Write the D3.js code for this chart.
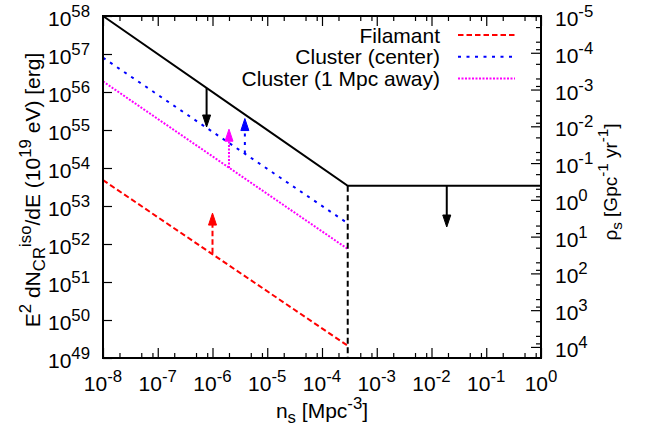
<!DOCTYPE html>
<html>
<head>
<meta charset="utf-8">
<script src="https://cdn.jsdelivr.net/npm/d3@7"></script>
<style>
  body { margin: 0; background: #fff; }
  svg { display: block; }
  text { font-family: "Liberation Sans", Arial, Helvetica, sans-serif; fill: #000; white-space: pre; }
</style>
</head>
<body>
<svg width="645" height="430"></svg>
<script>
(function() {

  // tick label exponents
  const xExponents = [-8, -7, -6, -5, -4, -3, -2, -1, 0];
  const yExponents = [49, 50, 51, 52, 53, 54, 55, 56, 57, 58];
  const y2Exponents = [-5, -4, -3, -2, -1, 0, 1, 2, 3, 4];
  const minorSteps = [2, 5, 8];

  // curves: [n_s, E^2 dN/dE]
  const upperLimit = [[1e-8, 1e58], [2.95e-4, 3.4e53], [1, 3.4e53]];
  const densityCut = [[2.95e-4, 3.4e53], [2.95e-4, 1e49]];
  const filament = [[1e-8, 4.8e53], [2.95e-4, 2.1e49]];
  const clusterCenter = [[1e-8, 8e56], [2.95e-4, 3.5e52]];
  const clusterAway = [[1e-8, 1.9e56], [2.95e-4, 7.4e51]];

  // arrows: [n_s, from, to]
  const limitArrows = [[7.8e-7, 1.28e56, 1.2e55], [1.9e-2, 3.4e53, 2.8e52]];
  const filamentArrows = [[1e-6, 5.7e51, 6.5e52]];
  const centerArrows = [[3.9e-6, 2.4e54, 2.0e55]];
  const awayArrows = [[2e-6, 1.0e54, 1.05e55]];

  const legendNames = ['Filamant', 'Cluster (center)', 'Cluster (1 Mpc away)'];

  const styles = {
    limit: { color: '#000000', dash: null },
    cut: { color: '#000000', dash: '6,3.5' },
    filament: { color: '#ff0000', dash: '5.5,3' },
    center: { color: '#0000ff', dash: '3,5.5' },
    away: { color: '#ff00ff', dash: '2,1.5' }
  };

  const svg = d3.select('svg');
  const left = 103, right = 541, top = 16, bottom = 358;
  const fs = 21;

  const x = d3.scaleLog().domain([1e-8, 1]).range([left, right]);
  const y = d3.scaleLog().domain([1e49, 1e58]).range([bottom, top]);
  const y2 = d3.scaleLog().domain([1e-5, 2e4]).range([top, bottom]);

  function minors(exps, scale) {
    const d = scale.domain();
    const lo = Math.min(d[0], d[1]), hi = Math.max(d[0], d[1]);
    return exps.flatMap(e => minorSteps.map(m => m * Math.pow(10, e))).filter(v => v > lo && v < hi);
  }

  function rich(sel, parts, size) {
    let cur = 0;
    parts.forEach(([t, lv]) => {
      const off = lv === 1 ? -9 : lv === -1 ? 5 : 0;
      sel.append('tspan')
        .attr('dy', off - cur)
        .attr('font-size', lv ? size * 0.8 : size)
        .text(t);
      cur = off;
    });
    return sel;
  }

  function axisGroup(axis, tx, ty) {
    const g = svg.append('g').attr('transform', `translate(${tx},${ty})`).call(axis);
    g.select('.domain').remove();
    g.selectAll('line').attr('stroke', '#000').attr('stroke-width', 1.2);
    g.selectAll('text').remove();
    return g;
  }

  const xMajor = xExponents.map(e => Math.pow(10, e));
  const xMinor = minors(xExponents, x);
  const y2Major = y2Exponents.map(e => Math.pow(10, e));
  const y2Minor = minors(y2Exponents.concat([-6]), y2);

  axisGroup(d3.axisBottom(x).tickValues(xMajor).tickSize(-10), 0, bottom);
  axisGroup(d3.axisBottom(x).tickValues(xMinor).tickSize(-5), 0, bottom);
  axisGroup(d3.axisTop(x).tickValues(xMajor).tickSize(-10), 0, top);
  axisGroup(d3.axisTop(x).tickValues(xMinor).tickSize(-5), 0, top);
  axisGroup(d3.axisLeft(y).tickValues(yExponents.map(e => Math.pow(10, e))).tickSize(-9), left, 0);
  axisGroup(d3.axisRight(y2).tickValues(y2Major).tickSize(-10), right, 0);
  axisGroup(d3.axisRight(y2).tickValues(y2Minor).tickSize(-5), right, 0);

  // tick labels
  xExponents.forEach(e => {
    rich(svg.append('text').attr('x', x(Math.pow(10, e))).attr('y', 391).attr('text-anchor', 'middle'),
      [['10', 0], [String(e), 1]], fs);
  });
  yExponents.forEach(e => {
    rich(svg.append('text').attr('x', 90).attr('y', y(Math.pow(10, e)) + 10).attr('text-anchor', 'end'),
      [['10', 0], [String(e), 1]], fs);
  });
  y2Exponents.forEach(e => {
    rich(svg.append('text').attr('x', 555).attr('y', y2(Math.pow(10, e)) + 10).attr('text-anchor', 'start'),
      [['10', 0], [String(e), 1]], fs);
  });

  // axis titles
  rich(svg.append('text').attr('x', 322).attr('y', 418).attr('text-anchor', 'middle'),
    [['n', 0], ['s', -1], [' [Mpc', 0], ['-3', 1], [']', 0]], fs);
  rich(svg.append('text').attr('transform', 'translate(40,190) rotate(-90)').attr('text-anchor', 'middle'),
    [['E', 0], ['2', 1], [' dN', 0], ['CR', -1], ['iso', 1], ['/dE (10', 0], ['19', 1], [' eV) [erg]', 0]], fs);
  rich(svg.append('text').attr('transform', 'translate(617,182) rotate(-90)').attr('text-anchor', 'middle'),
    [['\u03c1', 0], ['s', -1], [' [Gpc', 0], ['-1', 1], [' yr', 0], ['-1', 1], [']', 0]], 19);

  // curves
  const line = d3.line().x(d => x(d[0])).y(d => y(d[1]));
  const plotG = svg.append('g');

  function drawCurve(data, st) {
    plotG.append('path')
      .datum(data)
      .attr('d', line)
      .attr('fill', 'none')
      .attr('stroke', st.color)
      .attr('stroke-width', 2)
      .attr('stroke-dasharray', st.dash);
  }

  function drawArrows(list, st) {
    list.forEach(([n, from, to]) => {
      const px = x(n), y0 = y(from), y1 = y(to);
      const dir = y1 < y0 ? -1 : 1;
      const headLen = 12, headW = 4;
      plotG.append('line')
        .attr('x1', px).attr('x2', px)
        .attr('y1', y0).attr('y2', y1 - dir * headLen)
        .attr('stroke', st.color)
        .attr('stroke-width', 2)
        .attr('stroke-dasharray', st.dash);
      plotG.append('path')
        .attr('d', `M${px},${y1}L${px - headW},${y1 - dir * headLen}L${px + headW},${y1 - dir * headLen}Z`)
        .attr('fill', st.color)
        .attr('stroke', st.color)
        .attr('stroke-width', 1);
    });
  }

  drawCurve(filament, styles.filament);
  drawCurve(clusterCenter, styles.center);
  drawCurve(clusterAway, styles.away);
  drawCurve(densityCut, styles.cut);
  drawCurve(upperLimit, styles.limit);

  drawArrows(filamentArrows, styles.filament);
  drawArrows(centerArrows, styles.center);
  drawArrows(awayArrows, styles.away);
  drawArrows(limitArrows, styles.limit);

  // legend
  const legendStyles = [styles.filament, styles.center, styles.away];
  legendNames.forEach((name, i) => {
    const ly = 35 + i * 21.8;
    svg.append('text')
      .attr('x', 440).attr('y', ly + 7.5)
      .attr('text-anchor', 'end')
      .attr('font-size', fs)
      .text(name);
    svg.append('line')
      .attr('x1', 458).attr('x2', 515)
      .attr('y1', ly).attr('y2', ly)
      .attr('stroke', legendStyles[i].color)
      .attr('stroke-width', 2)
      .attr('stroke-dasharray', legendStyles[i].dash);
  });

  // frame
  svg.append('rect')
    .attr('x', left).attr('y', top)
    .attr('width', right - left).attr('height', bottom - top)
    .attr('fill', 'none')
    .attr('stroke', '#000')
    .attr('stroke-width', 2);

})();
</script>
</body>
</html>
